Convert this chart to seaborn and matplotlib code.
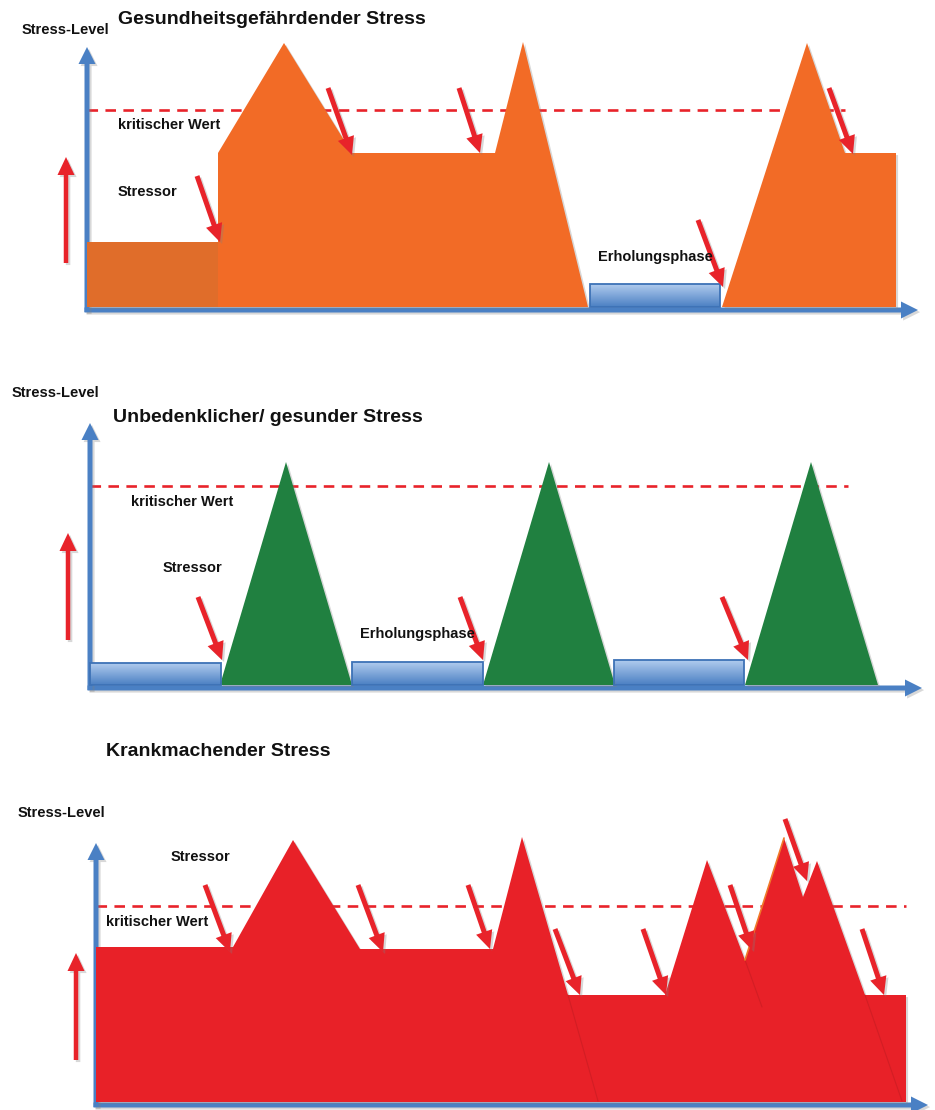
import numpy as np
import matplotlib
matplotlib.use("Agg")
import matplotlib.pyplot as plt
import matplotlib.patheffects as pe
from matplotlib.patches import Polygon, Rectangle
from matplotlib.colors import LinearSegmentedColormap
import seaborn as sns

W, H = 935, 1110

# ---------------- data (time / stress-level units) ----------------
# panel 1: Gesundheitsgefährdender Stress
p1_title = "Gesundheitsgefährdender Stress"
p1_base_t = [0, 0, 131, 131]
p1_base_l = [0, 65, 65, 0]
p1_main_t = [131, 131, 197, 265, 408, 436, 501]
p1_main_l = [0, 154, 264, 154, 154, 265, 0]
p1_end_t = [635, 720, 758, 809, 809]
p1_end_l = [0, 264, 154, 154, 0]
p1_rest_t0 = [503]
p1_rest_t1 = [633]
p1_rest_h = [23]
p1_crit = 197
p1_arr_t0 = [110, 241, 372, 611, 742]
p1_arr_l0 = [131, 219, 219, 87, 219]
p1_arr_t1 = [133, 265, 393, 636, 766]
p1_arr_l1 = [65, 152, 154, 20, 153]

# panel 2: Unbedenklicher/ gesunder Stress
p2_title = "Unbedenklicher/ gesunder Stress"
p2_peak_t0 = [130, 393, 655]
p2_peak_top = [196, 459, 721]
p2_peak_t1 = [262, 525, 788]
p2_peak_l = [223, 223, 223]
p2_rest_t0 = [0, 262, 524]
p2_rest_t1 = [131, 393, 654]
p2_rest_h = [22, 23, 25]
p2_crit = 199
p2_arr_t0 = [108, 370, 632]
p2_arr_l0 = [88, 88, 88]
p2_arr_t1 = [132, 393, 658]
p2_arr_l1 = [25, 25, 25]

# panel 3: Krankmachender Stress
p3_title = "Krankmachender Stress"
p3_t = [0, 0, 137, 197, 264, 397, 426, 472, 569, 611, 649, 688, 707, 721, 769, 810, 810]
p3_l = [0, 155, 155, 262, 153, 153, 265, 107, 107, 242, 142, 264, 205, 241, 107, 107, 0]
p3_crit = 196
p3_arr_t0 = [109, 262, 372, 459, 547, 634, 689, 766]
p3_arr_l0 = [217, 217, 217, 173, 173, 217, 283, 173]
p3_arr_t1 = [134, 287, 394, 484, 570, 656, 711, 788]
p3_arr_l1 = [150, 150, 153, 107, 107, 152, 221, 107]

# ---------------- style ----------------
AXIS_BLUE = "#4a80c4"
RED = "#e8232a"
ORANGE = "#f26b26"
ORANGE_DARK = "#e06d2a"
GREEN = "#208040"
RED_FILL = "#e82128"

sns.set_theme(style="white")
plt.rcParams["font.family"] = ["Liberation Sans", "DejaVu Sans"]

shadow = [pe.SimplePatchShadow(offset=(1.5, -1.5), shadow_rgbFace="gray", alpha=0.3), pe.Normal()]
grad = np.linspace(0, 1, 64).reshape(-1, 1)
rest_cmap = LinearSegmentedColormap.from_list("rest", ["#b0cbee", "#4b80c3"])

fig = plt.figure(figsize=(W / 100, H / 100), dpi=100)


def arrow(ax, t0, l0, t1, l1, color, w, hw, hl, z):
    a = ax.arrow(t0, l0, t1 - t0, l1 - l0, width=w, head_width=hw, head_length=hl,
                 length_includes_head=True, fc=color, ec="none", zorder=z)
    a.set_path_effects(shadow)


def axes_arrows(ax, x_tip, y_tip):
    arrow(ax, -2.5, -3, x_tip, -3, AXIS_BLUE, 5, 17, 17, 1)
    arrow(ax, 0, -5, 0, y_tip, AXIS_BLUE, 5, 17, 17, 1)


def crit_line(ax, t_end, level):
    sns.lineplot(x=[0, t_end], y=[level, level], ax=ax, color=RED, lw=1.9,
                 linestyle=(0, (4, 2.8)), legend=False, zorder=0.5)


def rest_bar(ax, t0, t1, h):
    ax.imshow(grad, extent=(t0, t1, 0, h), origin="upper", cmap=rest_cmap,
              aspect="auto", zorder=2)
    ax.add_patch(Rectangle((t0, 0), t1 - t0, h, fill=False, ec="#3d72b6", lw=1.3, zorder=3))


def fill(ax, t, l, color, z=2):
    p = Polygon(np.column_stack([t, l]), closed=True, fc=color, ec="none", zorder=z)
    p.set_path_effects(shadow)
    ax.add_patch(p)


def label(ax, t, l, s, size=10.5, **kw):
    ax.text(t, l, s, fontsize=size, fontweight="bold", color="#111111",
            ha="left", va="center", zorder=6, **kw)


def red_arrow(ax, t0, l0, t1, l1):
    arrow(ax, t0, l0, t1, l1, RED, 5, 17, 18, 5)


def panel_axes(ox, oy, top, bottom):
    ax = fig.add_axes([0, 1 - bottom / H, 1, (bottom - top) / H])
    ax.axis("off")
    lims = ((-ox, W - ox), (oy - bottom, oy - top))
    return ax, lims


# ---------------- panel 1 ----------------
ax1, lim1 = panel_axes(87, 307, 0, 370)
axes_arrows(ax1, 831, 260)
crit_line(ax1, 758, p1_crit)
fill(ax1, p1_base_t, p1_base_l, ORANGE_DARK)
fill(ax1, p1_main_t, p1_main_l, ORANGE)
fill(ax1, p1_end_t, p1_end_l, ORANGE)
for t0, t1, h in zip(p1_rest_t0, p1_rest_t1, p1_rest_h):
    rest_bar(ax1, t0, t1, h)
for a in zip(p1_arr_t0, p1_arr_l0, p1_arr_t1, p1_arr_l1):
    red_arrow(ax1, *a)
arrow(ax1, -21, 44, -21, 150, RED, 4.5, 17, 18, 5)
label(ax1, -65, 277, "Stress-Level")
label(ax1, 31, 287, p1_title, size=14)
label(ax1, 31, 182, "kritischer Wert")
label(ax1, 31, 115, "Stressor")
label(ax1, 511, 50, "Erholungsphase")

# ---------------- panel 2 ----------------
ax2, lim2 = panel_axes(90, 685, 370, 720)
axes_arrows(ax2, 832, 262)
crit_line(ax2, 758, p2_crit)
for t0, t1, h in zip(p2_rest_t0, p2_rest_t1, p2_rest_h):
    rest_bar(ax2, t0, t1, h)
for t0, tp, t1, lp in zip(p2_peak_t0, p2_peak_top, p2_peak_t1, p2_peak_l):
    fill(ax2, [t0, tp, t1], [0, lp, 0], GREEN)
for a in zip(p2_arr_t0, p2_arr_l0, p2_arr_t1, p2_arr_l1):
    red_arrow(ax2, *a)
arrow(ax2, -22, 45, -22, 152, RED, 4.5, 17, 18, 5)
label(ax2, -78, 292, "Stress-Level")
label(ax2, 23, 267, p2_title, size=14)
label(ax2, 41, 183, "kritischer Wert")
label(ax2, 73, 117, "Stressor")
label(ax2, 270, 51, "Erholungsphase")

# ---------------- panel 3 ----------------
ax3, lim3 = panel_axes(96, 1102, 720, 1110)
axes_arrows(ax3, 832, 259)
crit_line(ax3, 810, p3_crit)
fill(ax3, p3_t, p3_l, RED_FILL)
# faint seams between the overlapping shapes
for st, sl in [([472, 502], [107, 1]), ([649, 666], [142, 95]), ([769, 806], [107, 1])]:
    ax3.plot(st, sl, color="#c41c22", lw=0.8, alpha=0.6, zorder=3)
ax3.plot([688, 649], [264, 142], color="#f07a2a", lw=1.2, zorder=3)
for a in zip(p3_arr_t0, p3_arr_l0, p3_arr_t1, p3_arr_l1):
    red_arrow(ax3, *a)
arrow(ax3, -20, 42, -20, 149, RED, 4.5, 17, 18, 5)
label(ax3, -78, 289, "Stress-Level")
label(ax3, 10, 351, p3_title, size=14)
label(ax3, 75, 245, "Stressor")
label(ax3, 10, 180, "kritischer Wert")

for ax, lim in [(ax1, lim1), (ax2, lim2), (ax3, lim3)]:
    ax.set_xlim(*lim[0])
    ax.set_ylim(*lim[1])

fig.savefig("out.png", dpi=100, facecolor="white")
